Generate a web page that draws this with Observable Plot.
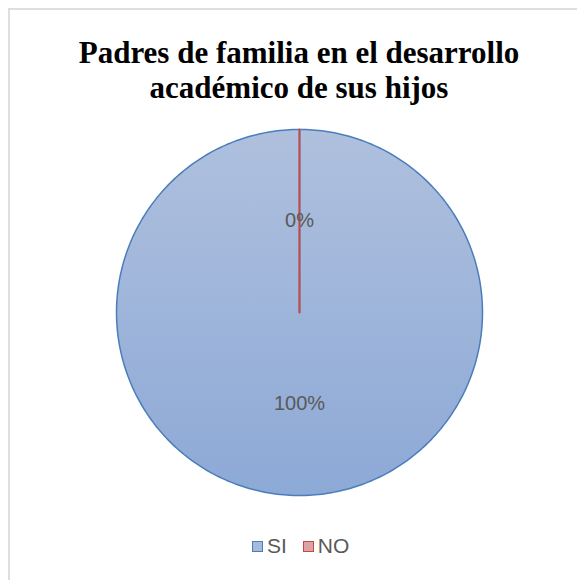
<!DOCTYPE html>
<html><head><meta charset="utf-8">
<script src="https://cdn.jsdelivr.net/npm/d3@7"></script>
<script src="https://cdn.jsdelivr.net/npm/@observablehq/plot@0.6"></script>
<style>
html,body{margin:0;padding:0;background:#fff}
body{width:577px;height:580px;overflow:hidden;position:relative}
#frame{position:absolute;left:8px;top:8px;width:640px;height:640px;border:2px solid #dedede;box-sizing:border-box}
#title{position:absolute;left:0;width:598px;top:35px;text-align:center;font-family:'Liberation Serif',serif;font-weight:bold;font-size:31px;line-height:35px;color:#000}
#chart{position:absolute;left:0;top:110px}
#legend{position:absolute;left:252px;top:534px;display:flex;align-items:center;font-family:'Liberation Sans',sans-serif;font-size:21px;color:#595959;white-space:nowrap}
#legend .sw{width:11px;height:11px;box-sizing:border-box;border:1.5px solid;margin-right:4px}
#legend .item{display:flex;align-items:center;margin-right:16px}
</style></head>
<body>
<div id="frame"></div>
<div id="title">Padres de familia en el desarrollo<br>académico de sus hijos</div>
<div id="chart"></div>
<div id="legend"></div>
<script>
const categories = ["SI", "NO"];
const values = [100, 0];
const labels = ["100%", "0%"];

const strokes = ["#4A7EBB", "#BE4B48"];
const swatchFill = ["#a7bade", "#dca3a2"];

const total = d3.sum(values);
let acc = 0;
const slices = categories.map((c, i) => {
  const a0 = acc / total * 2 * Math.PI;
  acc += values[i];
  const a1 = acc / total * 2 * Math.PI;
  return {cat: c, i, a0, a1, label: labels[i]};
});

function polygon(s) {
  const pts = [{x: 0, y: 0}];
  const n = Math.max(1, Math.ceil((s.a1 - s.a0) / (Math.PI / 180)));
  for (let k = 0; k <= n; k++) {
    const a = s.a0 + (s.a1 - s.a0) * k / n;
    pts.push({x: Math.sin(a), y: Math.cos(a)});
  }
  pts.push({x: 0, y: 0});
  return pts;
}

const labelPts = slices.map(s => {
  const m = (s.a0 + s.a1) / 2;
  return {x: 0.5 * Math.sin(m), y: 0.5 * Math.cos(m), label: s.label};
});

const marks = slices.map(s => Plot.line(polygon(s), {
  x: "x", y: "y",
  fill: s.i === 0 ? "url(#grad0)" : "url(#grad1)",
  stroke: strokes[s.i],
  strokeWidth: s.i === 0 ? 1.5 : 2,
  curve: "linear"
}));
marks.push(Plot.text(labelPts, {x: "x", y: "y", text: "label", fill: "#595959", fontSize: 20, fontFamily: "Liberation Sans"}));

const plot = Plot.plot({
  width: 577, height: 410,
  margin: 0,
  x: {domain: [-1, 1], range: [116, 482], axis: null},
  y: {domain: [-1, 1], range: [385, 19], axis: null},
  marks
});
plot.insertAdjacentHTML("afterbegin",
  `<defs>
    <linearGradient id="grad0" x1="0" y1="0" x2="0" y2="1">
      <stop offset="0" stop-color="#afc0de"/>
      <stop offset="1" stop-color="#8da9d6"/>
    </linearGradient>
    <linearGradient id="grad1" x1="0" y1="0" x2="0" y2="1">
      <stop offset="0" stop-color="#e0a9a8"/>
      <stop offset="1" stop-color="#d58d8b"/>
    </linearGradient>
  </defs>`);
document.getElementById("chart").appendChild(plot);

const legend = document.getElementById("legend");
categories.forEach((c, i) => {
  const item = document.createElement("div");
  item.className = "item";
  const sw = document.createElement("div");
  sw.className = "sw";
  sw.style.background = swatchFill[i];
  sw.style.borderColor = strokes[i];
  item.appendChild(sw);
  item.appendChild(document.createTextNode(c));
  legend.appendChild(item);
});
</script>
</body></html>
